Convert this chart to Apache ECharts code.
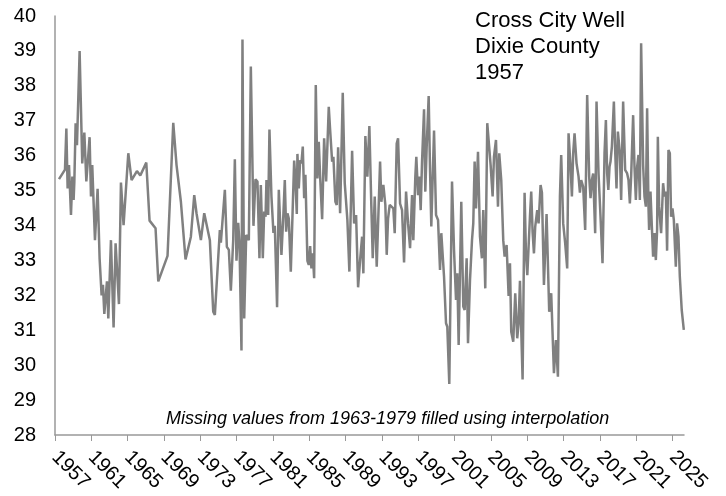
<!DOCTYPE html>
<html>
<head>
<meta charset="utf-8">
<script src="https://cdn.jsdelivr.net/npm/echarts@6/dist/echarts.min.js"></script>
<style>
  html, body { margin: 0; padding: 0; background: #fff; }
  #chart { width: 726px; height: 496px; }
</style>
</head>
<body>
<div id="chart"></div>
<script>
// water level readings, decimal year vs value
var years = [
  1957.44, 1958.10, 1958.25, 1958.39, 1958.54, 1958.76, 1958.91, 1959.05, 1959.13, 1959.27,
  1959.42, 1959.71, 1960.00, 1960.23, 1960.45, 1960.81, 1960.96, 1961.10, 1961.40, 1961.69,
  1961.91, 1962.13, 1962.28, 1962.43, 1962.72, 1962.87, 1963.16, 1963.45, 1963.67, 1964.04,
  1964.26, 1964.55, 1965.07, 1965.43, 1966.02, 1966.39, 1967.05, 1967.41, 1968.07, 1968.37,
  1969.39, 1970.02, 1970.38, 1970.86, 1971.37, 1971.96, 1972.33, 1972.58, 1973.06, 1973.43,
  1974.05, 1974.42, 1974.60, 1975.15, 1975.26, 1975.70, 1975.92, 1976.14, 1976.36, 1976.62,
  1976.80, 1976.98, 1977.17, 1977.31, 1977.53, 1977.64, 1977.83, 1978.05, 1978.34, 1978.56,
  1978.85, 1979.07, 1979.29, 1979.51, 1979.66, 1979.88, 1980.03, 1980.18, 1980.28, 1980.47,
  1980.61, 1980.83, 1981.05, 1981.20, 1981.45, 1981.64, 1981.93, 1982.15, 1982.30, 1982.45,
  1982.59, 1982.74, 1982.96, 1983.33, 1983.47, 1983.62, 1983.69, 1983.84, 1983.99, 1984.13,
  1984.28, 1984.43, 1984.57, 1984.79, 1984.94, 1985.09, 1985.23, 1985.38, 1985.53, 1985.71,
  1985.89, 1986.04, 1986.19, 1986.41, 1986.63, 1986.85, 1987.14, 1987.29, 1987.51, 1987.65,
  1987.87, 1988.02, 1988.17, 1988.39, 1988.68, 1988.90, 1989.19, 1989.41, 1989.71, 1989.93,
  1990.15, 1990.37, 1990.59, 1990.81, 1990.95, 1991.17, 1991.39, 1991.61, 1991.83, 1991.98,
  1992.20, 1992.42, 1992.79, 1992.93, 1993.15, 1993.37, 1993.52, 1993.67, 1993.85, 1994.03,
  1994.25, 1994.40, 1994.62, 1994.77, 1994.99, 1995.21, 1995.43, 1995.65, 1995.87, 1996.09,
  1996.31, 1996.45, 1996.67, 1996.78, 1996.97, 1997.11, 1997.26, 1997.41, 1997.63, 1997.77,
  1997.92, 1998.14, 1998.29, 1998.43, 1998.73, 1998.95, 1999.17, 1999.39, 1999.53, 1999.83,
  2000.05, 2000.19, 2000.41, 2000.71, 2000.93, 2001.15, 2001.29, 2001.44, 2001.73, 2001.95,
  2002.10, 2002.32, 2002.47, 2002.69, 2002.91, 2003.05, 2003.20, 2003.35, 2003.57, 2003.79,
  2004.00, 2004.15, 2004.37, 2004.59, 2004.81, 2004.96, 2005.18, 2005.33, 2005.55, 2005.77,
  2005.91, 2006.13, 2006.35, 2006.50, 2006.72, 2006.94, 2007.09, 2007.23, 2007.45, 2007.67,
  2007.89, 2008.04, 2008.19, 2008.33, 2008.48, 2008.70, 2008.85, 2009.00, 2009.14, 2009.29,
  2009.43, 2009.58, 2009.73, 2009.87, 2010.09, 2010.24, 2010.46, 2010.61, 2010.83, 2011.12,
  2011.41, 2011.63, 2011.93, 2012.15, 2012.37, 2012.59, 2012.73, 2012.95, 2013.17, 2013.39,
  2013.54, 2013.76, 2013.91, 2014.05, 2014.20, 2014.42, 2014.64, 2014.79, 2014.93, 2015.15,
  2015.37, 2015.59, 2015.81, 2015.96, 2016.11, 2016.25, 2016.47, 2016.62, 2016.84, 2017.06,
  2017.28, 2017.50, 2017.65, 2017.79, 2017.92, 2018.05, 2018.16, 2018.31, 2018.53, 2018.67,
  2018.82, 2018.97, 2019.19, 2019.33, 2019.55, 2019.77, 2019.99, 2020.14, 2020.29, 2020.43,
  2020.65, 2020.80, 2020.95, 2021.09, 2021.24, 2021.39, 2021.53, 2021.75, 2021.90, 2022.05,
  2022.19, 2022.34, 2022.41, 2022.56, 2022.71, 2022.85, 2023.00, 2023.15, 2023.29, 2023.37,
  2023.51, 2023.73, 2023.95, 2024.10, 2024.25, 2024.39, 2024.54, 2024.69, 2024.83, 2024.98,
  2025.13, 2025.35, 2025.49, 2025.64, 2025.79, 2026.00, 2026.23
];
var levels = [
  35.33, 35.60, 36.78, 35.06, 35.73, 34.30, 35.40, 34.73, 35.25, 36.93,
  36.30, 39.00, 35.78, 36.66, 35.26, 36.53, 34.83, 35.73, 33.58, 35.05,
  33.06, 32.00, 32.30, 31.47, 32.40, 31.34, 33.58, 31.08, 33.49, 31.75,
  35.23, 34.01, 36.07, 35.30, 35.56, 35.43, 35.80, 34.14, 33.92, 32.40,
  33.13, 36.94, 35.73, 34.68, 33.03, 33.68, 34.87, 34.35, 33.58, 34.35,
  33.58, 31.53, 31.44, 33.87, 33.51, 35.02, 33.39, 33.30, 32.13, 33.58,
  35.90, 32.99, 34.08, 33.49, 30.42, 39.33, 31.34, 33.73, 33.58, 38.55,
  33.99, 35.32, 35.26, 33.06, 35.16, 33.06, 34.40, 34.25, 35.30, 34.30,
  36.75, 34.83, 33.79, 33.99, 31.66, 35.02, 33.16, 34.35, 35.30, 33.82,
  34.35, 34.20, 32.68, 35.86, 35.30, 34.33, 36.05, 35.06, 35.87, 35.78,
  36.26, 34.78, 35.45, 32.99, 32.87, 33.41, 32.77, 33.20, 32.49, 38.02,
  35.35, 36.40, 35.40, 34.18, 36.50, 35.26, 37.40, 36.74, 35.83, 35.97,
  34.68, 34.59, 36.24, 34.35, 37.80, 35.21, 34.16, 32.68, 36.14, 34.06,
  34.30, 32.23, 33.01, 33.68, 32.63, 36.56, 35.40, 36.85, 34.54, 33.06,
  34.83, 32.82, 35.83, 34.68, 35.16, 34.59, 33.16, 34.20, 34.59, 34.59,
  34.49, 33.78, 36.35, 36.50, 34.63, 34.44, 32.94, 34.97, 34.06, 33.35,
  34.87, 33.58, 35.40, 35.97, 34.87, 35.40, 34.44, 35.83, 37.33, 34.97,
  36.26, 37.71, 35.59, 33.97, 36.72, 34.30, 34.16, 32.73, 33.78, 32.54,
  31.20, 31.10, 29.46, 35.26, 33.30, 31.87, 32.63, 30.58, 34.68, 31.68,
  31.58, 33.06, 30.63, 32.44, 33.58, 34.06, 35.83, 34.49, 36.11, 33.68,
  33.06, 34.44, 32.20, 36.93, 36.88, 35.73, 34.83, 35.97, 36.45, 34.54,
  36.07, 35.30, 33.58, 33.11, 33.44, 31.98, 32.92, 30.96, 30.67, 32.06,
  30.77, 31.20, 32.42, 31.01, 29.59, 34.94, 33.20, 32.58, 33.39, 34.25,
  34.97, 33.82, 33.20, 33.97, 34.44, 34.06, 35.16, 34.94, 32.30, 34.33,
  31.53, 32.06, 29.77, 30.72, 29.67, 34.83, 36.02, 34.06, 33.49, 32.77,
  36.64, 35.68, 34.83, 36.07, 36.64, 35.78, 35.40, 34.94, 35.30, 35.11,
  33.87, 37.74, 35.40, 34.78, 35.30, 35.49, 33.78, 37.55, 35.49, 34.25,
  32.92, 36.07, 37.02, 35.49, 35.02, 35.68, 35.83, 36.26, 37.55, 36.16,
  35.06, 36.69, 36.07, 34.73, 37.55, 35.59, 35.49, 35.30, 34.63, 35.40,
  37.16, 35.68, 34.73, 35.68, 36.02, 34.73, 39.22, 35.73, 34.83, 34.54,
  37.36, 34.54, 33.87, 34.97, 33.97, 33.11, 33.78, 33.01, 33.87, 36.54,
  34.54, 33.78, 35.21, 34.83, 34.97, 33.28, 36.16, 36.07, 34.25, 34.49,
  34.16, 32.82, 34.06, 33.68, 32.54, 31.58, 31.01
];
var tickYears = [1957, 1961, 1965, 1969, 1973, 1977, 1981, 1985, 1989, 1993,
  1997, 2001, 2005, 2009, 2013, 2017, 2021, 2025];

var points = years.map(function (y, i) { return [y, levels[i]]; });

var myChart = echarts.init(document.getElementById('chart'));
myChart.setOption({
  animation: false,
  textStyle: { fontFamily: 'Liberation Sans, Arial, sans-serif' },
  title: [{
    text: 'Cross City Well\nDixie County\n1957',
    left: 470,
    top: 3,
    textStyle: { fontSize: 22, fontWeight: 'normal', color: '#000', lineHeight: 26 }
  }, {
    text: 'Missing values from 1963-1979 filled using interpolation',
    left: 161,
    top: 405,
    textStyle: { fontSize: 18, fontWeight: 'normal', fontStyle: 'italic', color: '#000' }
  }],
  grid: { left: 55, right: 42, top: 16, bottom: 61 },
  xAxis: {
    type: 'value',
    min: 1957,
    max: 2026.25,
    interval: 4,
    splitLine: { show: false },
    axisLine: { lineStyle: { color: '#999', width: 1.5 } },
    axisTick: { show: true, length: 6, customValues: tickYears, lineStyle: { color: '#999' } },
    axisLabel: {
      customValues: tickYears,
      rotate: -45,
      margin: 19,
      fontSize: 20,
      color: '#000',
      formatter: function (v) { return String(v); }
    }
  },
  yAxis: {
    type: 'value',
    min: 28,
    max: 40,
    interval: 1,
    splitLine: { show: false },
    axisLine: { show: true, lineStyle: { color: '#999', width: 1.5 } },
    axisTick: { show: false },
    axisLabel: { fontSize: 20, color: '#000', margin: 19 }
  },
  series: [{
    type: 'line',
    data: points,
    showSymbol: false,
    lineStyle: { color: '#808080', width: 2.5 }
  }]
});
</script>
</body>
</html>
